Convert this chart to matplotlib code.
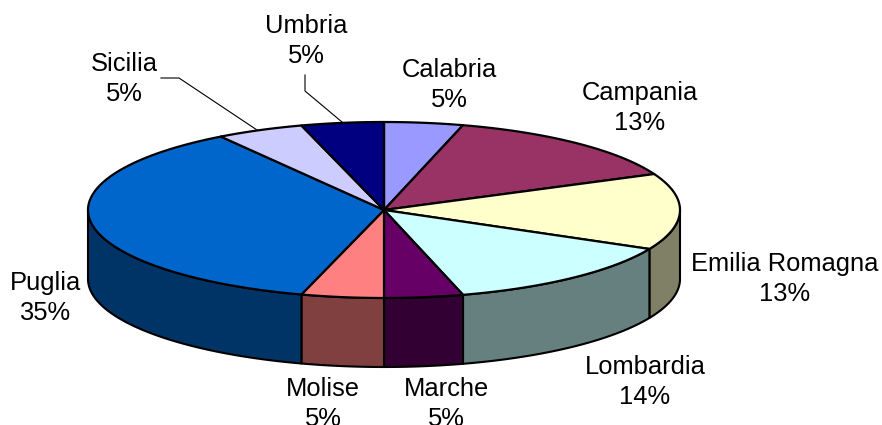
import matplotlib
matplotlib.use("Agg")
import matplotlib.pyplot as plt
import numpy as np

plt.rcParams['font.family'] = ['Liberation Sans', 'DejaVu Sans']

# order is clockwise from 12 o'clock
regions = ['Calabria', 'Campania', 'Emilia Romagna', 'Lombardia', 'Marche',
           'Molise', 'Puglia', 'Sicilia', 'Umbria']
printed_pct = [5, 13, 13, 14, 5, 5, 35, 5, 5]
# share of the ellipse each slice takes in the drawing (3d view stretches the sides)
drawn_share = [4.3, 14.0, 14.0, 13.4, 4.3, 4.5, 36.2, 4.8, 4.5]
top_colors = ['#9999FF', '#993366', '#FFFFCC', '#CCFFFF', '#660066',
              '#FF8080', '#0066CC', '#CCCCFF', '#000080']
side_colors = ['#666699', '#662244', '#808066', '#668080', '#330033',
               '#804040', '#003366', '#8080A0', '#000040']
label_x = [449, 640, 785, 645, 446, 323, 45, 124, 306]
label_y = [85, 108, 279, 382, 404, 404, 298, 79, 41]

cx, cy = 384, 210
rx, ry = 296, 88
depth = 69


def arc(a0, a1):
    t = np.linspace(a0, a1, 80)
    return cx + rx * np.sin(t), cy - ry * np.cos(t)


def plot_pie(ax):
    edges = np.cumsum([0] + drawn_share) / sum(drawn_share) * 2 * np.pi

    # side walls first, only the front half shows
    for i in range(len(regions)):
        a0 = max(edges[i], np.pi / 2)
        a1 = min(edges[i + 1], 3 * np.pi / 2)
        if a1 <= a0:
            continue
        x, y = arc(a0, a1)
        xs = np.r_[x, x[::-1]]
        ys = np.r_[y, y[::-1] + depth]
        ax.fill(xs, ys, facecolor=side_colors[i], edgecolor='black', lw=1.5, joinstyle='round')

    for i in range(len(regions)):
        x, y = arc(edges[i], edges[i + 1])
        ax.fill(np.r_[cx, x], np.r_[cy, y], facecolor=top_colors[i], edgecolor='black',
                lw=1.6, joinstyle='round')


def plot(ax):
    plot_pie(ax)

    for name, pct, x, y in zip(regions, printed_pct, label_x, label_y):
        ax.text(x, y, f'{name}\n{pct}%', ha='center', va='center', fontsize=18.4,
                linespacing=1.33, color='black', clip_on=False)

    # leader lines for the two labels moved off the pie
    ax.plot([161, 179, 257], [78, 78, 130], color='black', lw=0.8)
    ax.plot([305, 305, 342], [75, 91, 122], color='black', lw=0.8)


def main():
    fig = plt.figure(figsize=(8.82, 4.25), dpi=100)
    ax = fig.add_axes([0, 0, 1, 1])
    ax.set_xlim(0, 882)
    ax.set_ylim(425, 0)
    ax.axis('off')
    plot(ax)
    fig.savefig('out.png', dpi=100)


if __name__ == "__main__":
    main()
